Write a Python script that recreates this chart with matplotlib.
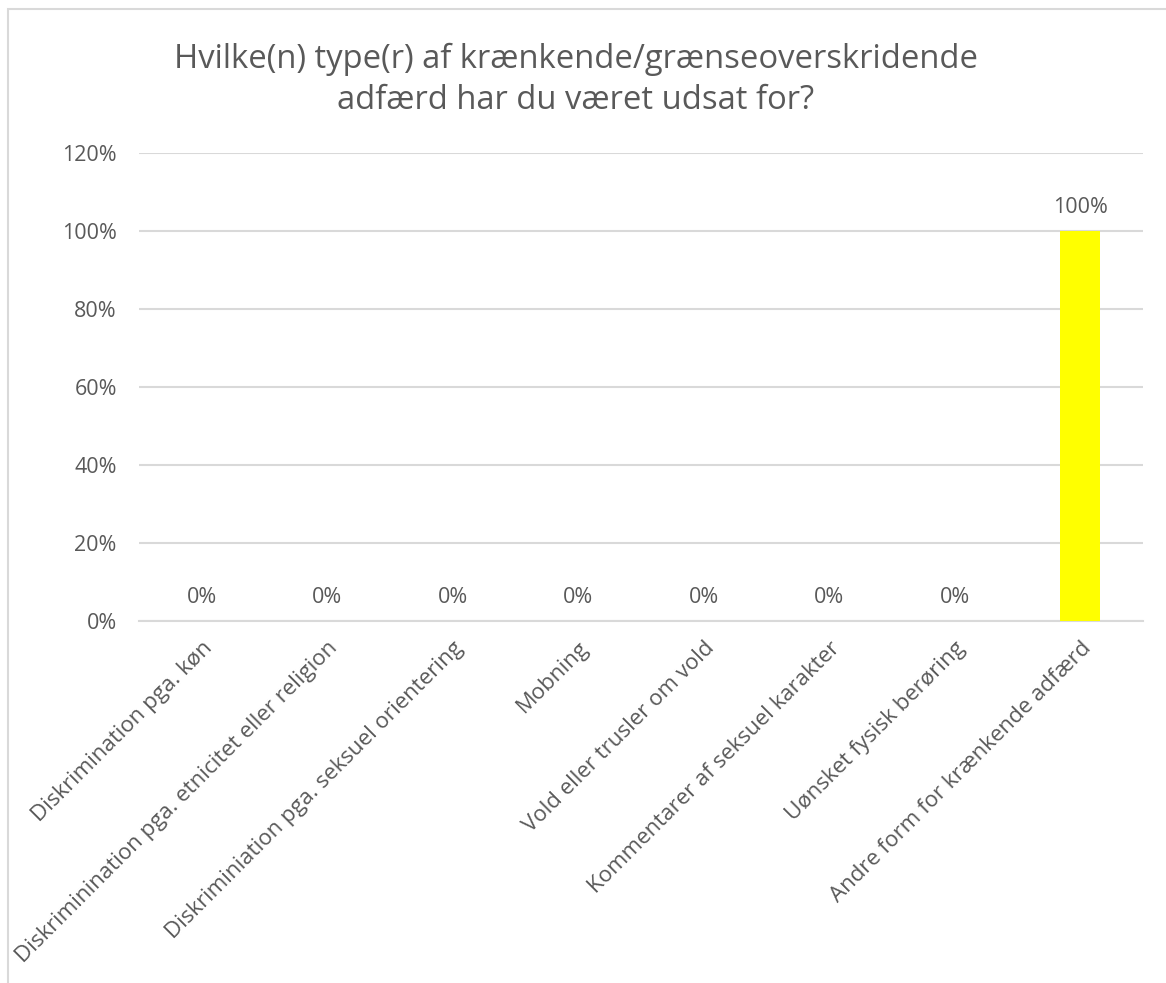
import numpy as np
import matplotlib
matplotlib.use('Agg')
import matplotlib.pyplot as plt
from matplotlib.patches import Rectangle
from matplotlib.ticker import FuncFormatter

categories = ['Diskrimination pga. køn',
              'Diskriminination pga. etnicitet eller religion',
              'Diskriminiation pga. seksuel orientering',
              'Mobning',
              'Vold eller trusler om vold',
              'Kommentarer af seksuel karakter',
              'Uønsket fysisk berøring',
              'Andre form for krænkende adfærd']
values = [0, 0, 0, 0, 0, 0, 0, 1.0]
yticks = [0, 0.2, 0.4, 0.6, 0.8, 1.0, 1.2]
title = 'Hvilke(n) type(r) af krænkende/grænseoverskridende\nadfærd har du været udsat for?'

plt.rcParams['font.family'] = ['Open Sans', 'DejaVu Sans']
txt = '#595959'
grid = '#d9d9d9'

fig = plt.figure(figsize=(11.66, 9.83), dpi=100)
ax = fig.add_axes([139/1166, 1 - 621/983, (1143-139)/1166, (621-153)/983])

x = np.arange(len(categories))
ax.bar(x, values, width=0.32, color='#ffff00', zorder=3)
for xi, v in zip(x, values):
    ax.annotate('{:.0%}'.format(v), (xi, v), xytext=(0, 17), textcoords='offset points',
                ha='center', va='center', fontsize=15.5, color=txt)

ax.set_xlim(-0.5, len(categories) - 0.5)
ax.set_ylim(0, 1.2)
ax.set_yticks(yticks)
ax.yaxis.set_major_formatter(FuncFormatter(lambda v, p: '{:.0%}'.format(v)))
ax.grid(axis='y', color=grid, linewidth=1.5, zorder=0)
ax.set_axisbelow(True)
for s in ['top', 'right', 'left']:
    ax.spines[s].set_visible(False)
ax.spines['bottom'].set_color(grid)
ax.spines['bottom'].set_linewidth(1.5)
ax.tick_params(axis='both', length=0, labelsize=15.5, labelcolor=txt)
ax.tick_params(axis='y', pad=16)
ax.set_xticks(x)
ax.set_xticklabels(categories, rotation=45, ha='right', va='top', rotation_mode='anchor',
                   fontsize=16)
ax.tick_params(axis='x', pad=12)

fig.text(0.494, 1 - 80/983, title, ha='center', va='center', fontsize=23.6,
         color=txt, linespacing=1.32)

fig.patches.append(Rectangle((8/1166, -0.1), 1.2, 1 - 9/983 + 0.1, transform=fig.transFigure,
                             fill=False, edgecolor=grid, linewidth=1.5))

fig.savefig('out.png', dpi=100)
